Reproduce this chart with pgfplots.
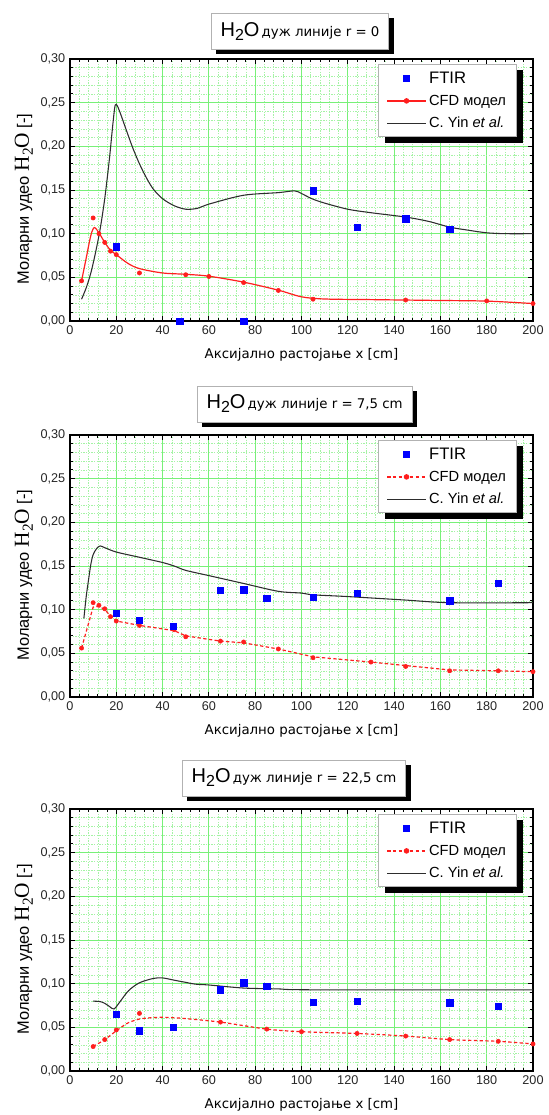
\documentclass[border=0pt]{standalone}
\usepackage{fontspec}
\setmainfont{Liberation Sans}
\newfontfamily\verd{DejaVu Sans}
\newfontfamily\tms{Liberation Serif}
\usepackage{pgfplots}
\pgfplotsset{compat=1.18}
\usetikzlibrary{shadows}
\makeatletter
\tikzset{nopre/.code={\let\tikz@preactions\pgfutil@empty}}
\makeatother
\definecolor{gmaj}{RGB}{120,240,120}
\definecolor{gmin}{RGB}{165,243,165}
\definecolor{ftir}{RGB}{0,0,255}
\definecolor{cfd}{RGB}{255,30,30}
\definecolor{yin}{RGB}{45,45,45}

\pgfplotsset{
  panel/.style={
    scale only axis, width=347.25pt, height=196.5pt,
    xmin=0, xmax=200, ymin=0, ymax=0.30,
    xtick={0,20,...,200}, ytick={0,0.05,0.1,0.15,0.2,0.25,0.3},
    minor x tick num=4, minor y tick num=4,
    grid=both,
    major grid style={gmaj, line width=0.6pt},
    minor grid style={gmin, line width=0.4pt, dash pattern=on 1pt off 1pt},
    tick align=inside, tick pos=both,
    xticklabel pos=lower, yticklabel pos=left,
    major tick length=4pt, minor tick length=2.2pt,
    every tick/.style={black, line width=0.7pt},
    axis line style={line width=1.1pt},
    tick label style={font=\fontsize{9.5}{10}\selectfont, text=black!85},
    /pgf/number format/assume math mode=true,
    yticklabel style={/pgf/number format/.cd, fixed, fixed zerofill, precision=2, use comma},
    xticklabel style={/pgf/number format/.cd, fixed, precision=0},
    every axis x label/.style={at={(axis description cs:0.5,-0.128)}, anchor=center, font=\verd\fontsize{10}{12}\selectfont},
    every axis y label/.style={at={(axis description cs:-0.100,0.465)}, rotate=90, anchor=center, font=\fontsize{12.3}{14}\selectfont},
    xlabel={Аксијално растојање x [cm]},
    ylabel={Моларни удео {\tms\fontsize{16}{16}\selectfont H\raisebox{-3pt}{\fontsize{11.5}{11.5}\selectfont 2}O} [-]},
    legend style={at={(axis description cs:0.9654,0.981)}, anchor=north east,
      draw=gray!60, fill=white, font=\fontsize{11}{12}\selectfont,
      row sep=3.3pt, inner xsep=6pt, inner ysep=3.5pt,
      general shadow={fill=black, shadow xshift=4.5pt, shadow yshift=-4.5pt},
      cells={anchor=west}},
    legend image code/.code={\draw[nopre, mark repeat=2, mark phase=2, #1] plot coordinates {(0pt,0pt) (14.5pt,0pt) (29pt,0pt)};},
  },
  ftirs/.style={only marks, mark=square*, mark size=2.4pt, ftir, forget plot},
  cfdm/.style={only marks, mark=*, mark size=1.6pt, cfd, forget plot},
  yinl/.style={yin, line width=0.8pt, smooth, tension=0.5, forget plot},
}
\tikzset{titlebox/.style={draw=gray!60, fill=white, minimum height=27pt, inner xsep=7pt,
  general shadow={fill=black, shadow xshift=3.8pt, shadow yshift=-3.8pt}}}

\newcommand{\ttl}[1]{{\fontsize{15}{15}\selectfont H\raisebox{-3pt}{\fontsize{12}{12}\selectfont 2}O}\,{\verd\fontsize{10}{12}\selectfont #1}}

\begin{document}
\begin{tikzpicture}
\path[use as bounding box] (0,0) rectangle (411.75pt,-836.25pt);

% ---------------- Panel 1 ----------------
\begin{axis}[panel, at={(52.5pt,-240.75pt)}, anchor=south west]
\addlegendimage{only marks, mark=square*, mark size=2.4pt, ftir}
\addlegendimage{cfd, line width=0.9pt, mark=*, mark size=1.6pt}
\addlegendimage{yin, line width=0.8pt}
\legend{{\fontsize{12.5}{12}\selectfont FTIR}, CFD модел, C. Yin \textit{et al.}}
\addplot[cfd, line width=0.9pt, smooth, tension=0.5, forget plot] coordinates {
(5,0.046) (7,0.072) (9,0.098) (10.5,0.107) (12.5,0.101) (15,0.090) (17.5,0.081) (20,0.076)
(25,0.066) (30,0.060) (40,0.055) (50,0.0535) (60,0.0513) (75,0.0445) (90,0.0353)
(100,0.0277) (110,0.0252) (130,0.0245) (145,0.024) (160,0.0235) (180,0.0228) (200,0.020)};
\addplot[cfdm] coordinates {
(5,0.046) (10,0.118) (12.5,0.100) (15,0.090) (17.5,0.080) (20,0.076) (30,0.055) (50,0.053)
(60,0.051) (75,0.044) (90,0.035) (105,0.025) (145,0.024) (180,0.023) (200,0.020)};
\addplot[yinl] coordinates {
(5,0.025) (7,0.038) (9,0.055) (11,0.078) (13,0.105) (15,0.140) (17,0.185) (18.5,0.225)
(19.5,0.247) (20.5,0.246) (22,0.236) (24,0.221) (27,0.199) (30,0.180) (33,0.164) (36,0.151)
(40,0.140) (45,0.132) (50,0.128) (55,0.129)
(60.2,0.134) (75,0.144) (90,0.147) (97,0.149) (100,0.146) (104.5,0.140) (110,0.135)
(120,0.128) (130,0.124) (145,0.119) (155,0.114) (164,0.1075) (172,0.104) (180,0.101) (188,0.100) (200,0.100)};
\addplot[ftirs] coordinates {
(20,0.085) (47.5,0.0) (75,0.0) (105,0.149) (124,0.107) (145,0.117) (164,0.105)};
\end{axis}
\node[titlebox] at (225pt,-23.5pt) {\ttl{дуж линије r = 0}};

% ---------------- Panel 2 ----------------
\begin{axis}[panel, at={(52.5pt,-522.75pt)}, anchor=south west]
\addlegendimage{only marks, mark=square*, mark size=2.4pt, ftir}
\addlegendimage{cfd, line width=0.9pt, dash pattern=on 2.5pt off 1.8pt, mark=*, mark size=1.6pt, mark options={solid}}
\addlegendimage{yin, line width=0.8pt}
\legend{{\fontsize{12.5}{12}\selectfont FTIR}, CFD модел, C. Yin \textit{et al.}}
\addplot[cfd, line width=0.9pt, dash pattern=on 2.5pt off 1.8pt, forget plot] coordinates {
(5,0.056) (10,0.103) (12.5,0.104) (15,0.100) (17.5,0.093) (20,0.087) (30,0.082) (45,0.076)
(50,0.070) (65,0.064) (75,0.062) (90,0.055) (105,0.046) (130,0.040) (145,0.036) (164,0.031)
(185,0.030) (200,0.029)};
\addplot[cfdm] coordinates {
(5,0.056) (10,0.108) (12.5,0.105) (15,0.101) (17.5,0.092) (20,0.087) (30,0.082) (45,0.077)
(50,0.069) (65,0.064) (75,0.063) (90,0.055) (105,0.045) (130,0.040) (145,0.035) (164,0.030)
(185,0.030) (200,0.029)};
\addplot[yinl] coordinates {
(6,0.090) (7,0.115) (8,0.134) (9,0.152) (10,0.163) (11.5,0.170) (13,0.173) (15,0.171)
(20,0.166) (30,0.160) (40,0.154) (45,0.150) (50,0.145) (60,0.139) (75,0.130) (90,0.121)
(100,0.119) (105,0.117) (120,0.115) (145,0.111) (164,0.108) (200,0.108)};
\addplot[ftirs] coordinates {
(20,0.096) (30,0.088) (44.5,0.081) (65,0.122) (75,0.123) (85,0.113) (105,0.114) (124,0.119)
(164,0.110) (185,0.130)};
\end{axis}
\node[titlebox] at (228.5pt,-303pt) {\ttl{дуж линије r = 7,5 cm}};

% ---------------- Panel 3 ----------------
\begin{axis}[panel, at={(52.5pt,-803.25pt)}, anchor=south west]
\addlegendimage{only marks, mark=square*, mark size=2.4pt, ftir}
\addlegendimage{cfd, line width=0.9pt, dash pattern=on 2.5pt off 1.8pt, mark=*, mark size=1.6pt, mark options={solid}}
\addlegendimage{yin, line width=0.8pt}
\legend{{\fontsize{12.5}{12}\selectfont FTIR}, CFD модел, C. Yin \textit{et al.}}
\addplot[cfd, line width=0.9pt, dash pattern=on 2.5pt off 1.8pt, smooth, tension=0.5, forget plot] coordinates {
(10,0.028) (15,0.036) (20,0.046) (25,0.055) (30,0.0595) (35,0.061) (40,0.0615) (45,0.061)
(50,0.060) (65,0.056) (85,0.048) (100,0.045) (124,0.043) (145,0.040) (164,0.036) (185,0.034) (200,0.031)};
\addplot[cfdm] coordinates {
(10,0.028) (15,0.036) (20,0.047) (30,0.066) (65,0.056) (85,0.048) (100,0.045) (124,0.043)
(145,0.040) (164,0.036) (185,0.034) (200,0.031)};
\addplot[yinl] coordinates {
(10,0.080) (13,0.0795) (15,0.0775) (17,0.074) (19,0.071) (21.5,0.079) (25.3,0.092) (30,0.101)
(36,0.106) (40,0.1066) (45,0.104) (50,0.1015) (54,0.0995) (60,0.0985) (75,0.095) (90,0.094)
(104.4,0.093) (200,0.093)};
\addplot[ftirs] coordinates {
(20,0.065) (30,0.046) (44.5,0.050) (65,0.093) (75,0.101) (85,0.097) (105,0.079) (124,0.080)
(164,0.078) (185,0.074)};
\end{axis}
\node[titlebox] at (220.5pt,-583.5pt) {\ttl{дуж линије r = 22,5 cm}};
\end{tikzpicture}
\end{document}
